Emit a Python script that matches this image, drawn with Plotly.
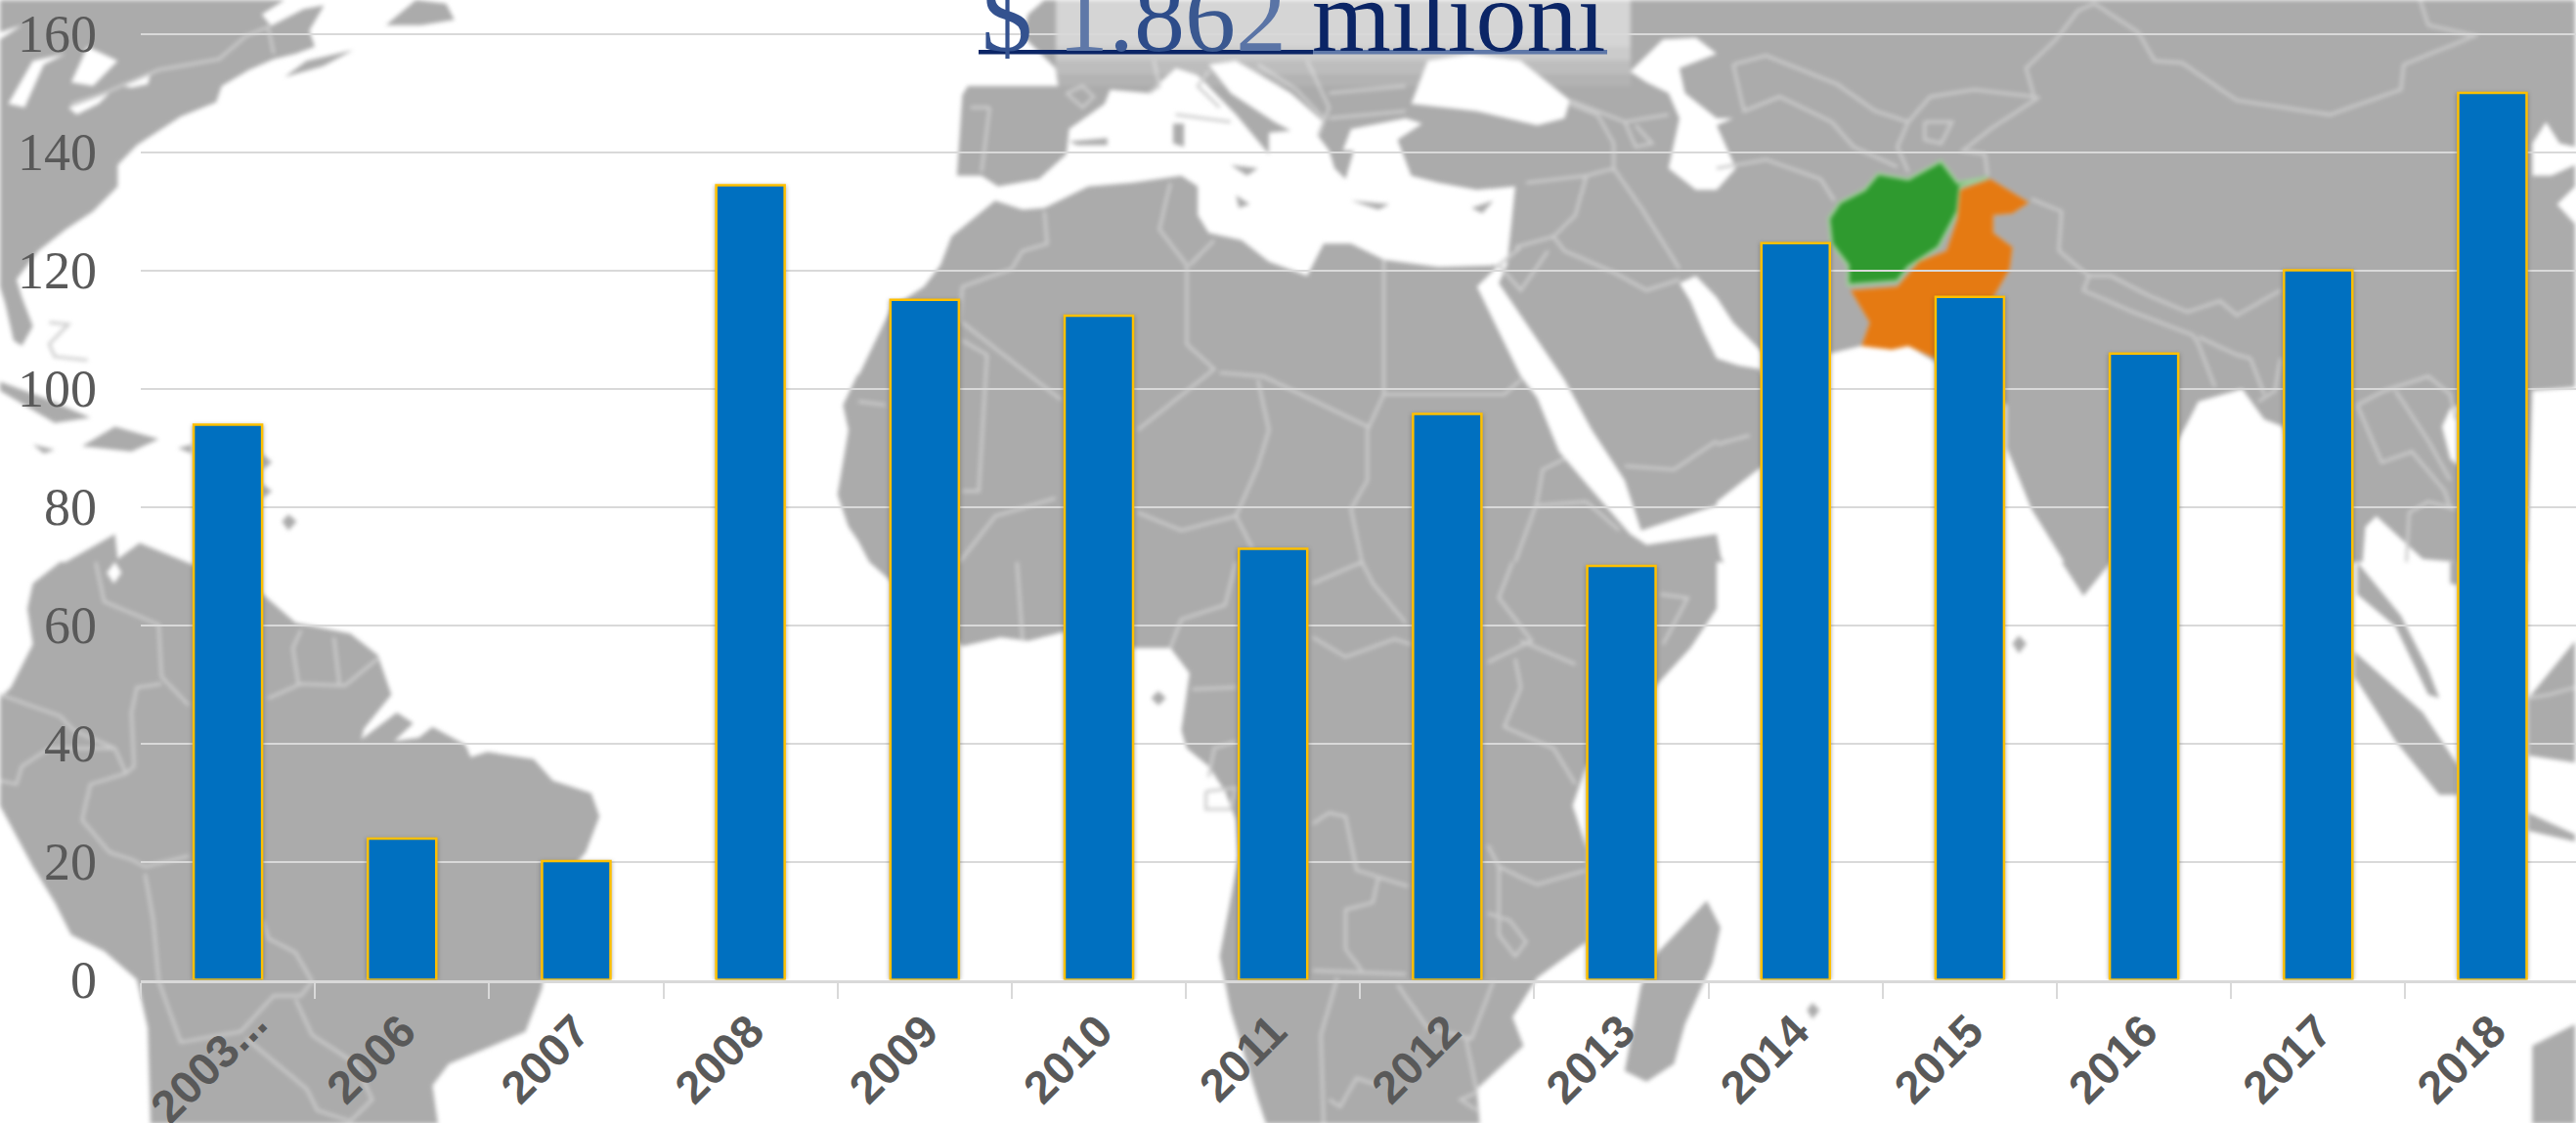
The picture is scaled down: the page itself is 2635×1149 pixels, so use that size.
import plotly.graph_objects as go

# ---- chart data ----
categories = ["2003...", "2006", "2007", "2008", "2009", "2010", "2011",
              "2012", "2013", "2014", "2015", "2016", "2017", "2018"]
values = [93.9, 23.9, 20.1, 134.4, 115, 112.3, 72.9,
          95.7, 70, 124.6, 115.5, 105.9, 120, 150]
y_ticks = [0, 20, 40, 60, 80, 100, 120, 140, 160]

W, H = 2635, 1149
SX, SY = 1568 / 878, 1568 / 575
TILES = {"A": (0, 0), "B": (878, 0), "C": (1756, 0), "D": (0, 575), "E": (878, 575), "F": (1756, 575)}


def P(tile, pts):
    ox, oy = TILES[tile]
    return [(ox + x / SX, oy + y / SY) for x, y in pts]


def path(polys, close=True):
    out = []
    for poly in polys:
        s = "M" + " L".join(f"{x / W:.5f},{1 - y / H:.5f}" for x, y in poly)
        out.append(s + (" Z" if close else ""))
    return " ".join(out)


# ---- decorative background map ----
land = [
    # North America
    P("A", [(0, 0), (520, 0), (478, 40), (495, 72), (555, 25), (592, 15), (565, 85), (575, 130), (540, 150), (500, 165),
            (455, 195), (405, 240), (395, 285), (330, 325), (300, 355), (250, 405), (215, 460), (215, 520), (170, 590),
            (120, 640), (70, 700), (30, 780), (40, 830), (60, 910), (40, 965), (25, 950), (10, 850), (0, 800)]),
    P("A", [(520, 215), (560, 170), (645, 140), (590, 185)]),
    P("A", [(705, 70), (760, 0), (815, 10), (830, 55), (770, 70)]),
    P("A", [(0, 1065), (80, 1110), (165, 1165), (100, 1180), (0, 1090)]),
    P("A", [(150, 1245), (210, 1190), (290, 1225), (240, 1260)]),
    P("A", [(60, 1240), (100, 1255), (80, 1265)]),
    P("A", [(325, 1250), (350, 1240), (350, 1265)]),
    P("A", [(478, 1265), (497, 1290), (480, 1310)]),
    P("A", [(478, 1350), (497, 1370), (480, 1390)]),
    P("A", [(515, 1455), (527, 1435), (542, 1455), (527, 1480)]),
    # South America
    P("A", [(120, 1568), (210, 1490), (215, 1560), (255, 1515), (340, 1568)])
    + P("D", [(480, 90), (540, 170), (640, 200), (690, 260), (715, 370), (665, 465), (660, 495), (725, 420), (755, 450),
              (720, 500), (765, 490), (790, 460), (850, 510), (860, 545), (890, 530), (975, 550), (1010, 610),
              (1080, 645), (1095, 710), (1070, 810), (1020, 900), (1000, 1050), (990, 1190), (960, 1310), (900, 1350),
              (820, 1400), (790, 1460), (800, 1568), (275, 1568), (270, 1300), (250, 1165), (190, 1085), (130, 1040),
              (100, 950), (60, 850), (0, 680), (0, 380), (20, 350), (60, 230), (50, 130), (60, 60), (110, 0)]),
    # Africa
    P("B", [(0, 1050), (60, 860), (120, 800), (150, 740), (170, 660), (250, 560), (300, 585), (340, 580), (420, 520),
            (500, 510), (590, 490), (620, 520), (620, 600), (640, 650), (700, 670), (750, 730), (820, 770), (850, 680),
            (900, 680), (960, 725), (1060, 745), (1170, 740), (1130, 800), (1210, 1050), (1240, 1110), (1280, 1260),
            (1330, 1350), (1410, 1490), (1440, 1520), (1568, 1490)])
    + P("C", [(8, 1557), (14, 1568)])
    + P("E", [(1568, 0), (1568, 130), (1520, 240), (1460, 340), (1330, 570), (1305, 680), (1330, 800), (1330, 1060),
              (1240, 1160), (1195, 1270), (1215, 1350), (1130, 1470), (1135, 1568), (745, 1568), (730, 1500),
              (680, 1250), (660, 1100), (695, 820), (690, 720), (670, 640), (640, 570), (600, 520), (590, 470),
              (605, 310), (570, 240), (505, 240), (375, 195), (310, 220), (260, 210), (190, 235), (57, 50), (20, 0)])
    + P("A", [(1568, 1510), (1550, 1470), (1530, 1380), (1550, 1200), (1540, 1130), (1568, 1040)]),
    P("E", [(1550, 945), (1575, 1020), (1560, 1120), (1510, 1290), (1490, 1400), (1440, 1450), (1400, 1420),
            (1430, 1180), (1460, 1090)]),
    P("E", [(535, 380), (548, 360), (562, 380), (548, 400)]),
    # Eurasia
    P("B", [(340, 0), (1568, 0)])
    + P("C", [(1568, 0), (1568, 410), (1540, 400), (1515, 340), (1490, 400), (1490, 490), (1525, 490), (1568, 460),
              (1568, 520), (1535, 570), (1568, 625), (1568, 1080), (1490, 1090), (1480, 1568), (1355, 1568), (1290, 1560),
              (1205, 1440), (1185, 1470), (1180, 1568), (1100, 1568), (1035, 1190), (1000, 1170), (960, 1085), (880, 1120),
              (860, 1180), (720, 1568), (635, 1568), (575, 1420), (530, 1250), (530, 1130), (400, 1010), (350, 965),
              (320, 975), (265, 965), (210, 985), (85, 985), (30, 900), (0, 830)])
    + P("B", [(1530, 770), (1500, 790), (1520, 840), (1545, 930)])
    + P("C", [(0, 1000), (40, 1020), (80, 1030), (90, 1080), (200, 1200), (75, 1310), (0, 1400)])
    + P("B", [(1568, 1410), (1430, 1480), (1400, 1340), (1340, 1200), (1290, 1060), (1170, 790), (1185, 740), (1200, 520),
              (1130, 530), (1060, 510), (1010, 490), (985, 390), (1030, 345), (1000, 330), (900, 360), (885, 420),
              (905, 420), (890, 500), (870, 470), (860, 420), (840, 380), (850, 340), (790, 260), (690, 170), (640, 180),
              (680, 260), (760, 340), (790, 365), (750, 370), (750, 430), (690, 320), (620, 210), (580, 190), (530, 260),
              (460, 250), (450, 290), (385, 360), (380, 430), (330, 500), (255, 520), (225, 490), (180, 490), (185, 380),
              (190, 265), (200, 240), (365, 240), (360, 190), (300, 100), (310, 40)]),
    P("B", [(680, 460), (730, 470), (710, 490)]),
    P("B", [(575, 345), (595, 345), (595, 410), (575, 400)]),
    P("B", [(385, 395), (455, 385), (455, 405), (400, 405)]),
    P("B", [(900, 560), (970, 570), (950, 585)]),
    P("B", [(1120, 580), (1160, 560), (1140, 595)]),
    P("B", [(690, 545), (715, 570), (695, 580)]),
    # Indian Ocean islands, Malaya, Sumatra, Borneo, Java
    P("F", [(540, 228), (552, 205), (566, 228), (552, 255)]),
    P("F", [(165, 1250), (175, 1230), (188, 1250), (175, 1275)]),
    P("C", [(640, 1568), (720, 1568)]) + P("F", [(715, 10), (670, 95), (630, 0)]),
    P("F", [(1170, 0), (1250, 150), (1300, 300), (1320, 380), (1300, 370), (1240, 180), (1170, 90)]),
    P("F", [(1165, 250), (1290, 420), (1355, 570), (1355, 650), (1320, 650), (1240, 500), (1165, 320)]),
    P("F", [(1483, 700), (1568, 760), (1568, 780), (1483, 750)]),
    P("F", [(1483, 380), (1568, 220), (1568, 560), (1483, 540)]),
    P("F", [(1340, 0), (1355, 0), (1355, 65), (1340, 60)]),
    P("F", [(1490, 1568), (1490, 1350), (1568, 1290), (1568, 1568)]),
]

water = [
    P("A", [(15, 290), (60, 170), (120, 150), (80, 180), (45, 300)]),
    P("A", [(130, 230), (160, 130), (215, 170), (170, 240)]),
    P("A", [(125, 300), (200, 260), (180, 290), (140, 320)]),
    P("A", [(225, 240), (275, 205), (270, 235), (240, 245)]),
    P("A", [(0, 90), (40, 70), (0, 110)]),
    P("B", [(1010, 290), (1040, 170), (1120, 150), (1210, 170), (1300, 280), (1290, 330), (1240, 350), (1130, 310)]),
    P("B", [(1410, 200), (1470, 110), (1530, 105), (1568, 150), (1500, 190), (1510, 260), (1568, 330)])
    + P("C", [(30, 330), (0, 350), (35, 470), (0, 530)])
    + P("B", [(1530, 530), (1480, 470), (1500, 330), (1480, 260), (1440, 230)]),
    P("D", [(195, 30), (210, 0), (222, 30), (208, 60)]),
    P("E", [(1305, 680), (1330, 570), (1335, 800)]),
    P("C", [(1325, 1190), (1340, 1140), (1355, 1130), (1355, 1300), (1340, 1280)]),
]

borders = [
    P("A", [(130, 290), (190, 260), (290, 195), (400, 165), (450, 100), (490, 75), (500, 150)]),
    P("A", [(90, 900), (125, 905), (90, 960), (100, 995), (160, 1005)]),
    P("D", [(175, 0), (190, 110), (290, 175), (295, 320), (345, 400)]),
    P("D", [(345, 820), (265, 850), (240, 830), (200, 810), (150, 720), (165, 620), (230, 590), (245, 570), (240, 420),
            (250, 350), (295, 340)]),
    P("D", [(0, 370), (110, 430), (135, 470), (210, 520), (230, 590)]),
    P("D", [(0, 610), (30, 620), (40, 570), (90, 520), (210, 520)]),
    P("D", [(265, 870), (280, 1000), (290, 1170), (330, 1340), (440, 1310), (500, 1210), (550, 1210), (570, 1170),
            (540, 1090), (490, 1050), (480, 1000)]),
    P("D", [(540, 1220), (570, 1320), (650, 1400), (680, 1500), (640, 1560), (580, 1530), (560, 1470), (450, 1330)]),
    P("D", [(490, 380), (550, 340), (630, 345), (690, 270)]),
    P("D", [(545, 340), (535, 240), (550, 190)]),
    P("D", [(620, 340), (610, 210)]),
    # Africa north
    P("B", [(960, 725), (960, 1100), (930, 1200), (930, 1340), (900, 1420), (920, 1568)]),
    P("B", [(960, 1100), (1180, 1100), (1210, 1060)]),
    P("B", [(930, 1190), (740, 1050), (660, 1040)]),
    P("B", [(570, 510), (550, 640), (600, 740), (600, 900), (600, 960), (650, 1030), (510, 1200)]),
    P("B", [(650, 670), (605, 740)]),
    P("B", [(340, 590), (345, 680), (300, 700), (280, 750), (190, 800), (185, 900)]),
    P("B", [(190, 900), (370, 1115)]),
    P("B", [(190, 950), (235, 990), (220, 1370), (190, 1370)]),
    P("B", [(730, 1060), (750, 1200), (730, 1300), (690, 1440), (590, 1480), (510, 1430)]),
    P("B", [(690, 1440), (720, 1530)]),
    P("B", [(0, 1120), (50, 1130)]),
    P("B", [(185, 1568), (250, 1440), (360, 1390)]),
    # Middle East / Arabia
    P("B", [(1200, 690), (1270, 660), (1310, 600), (1330, 490), (1220, 510)]),
    P("B", [(1330, 490), (1380, 470), (1430, 580), (1500, 750)]),
    P("B", [(1270, 660), (1290, 700), (1380, 760), (1440, 810), (1500, 780)]),
    P("B", [(1210, 690), (1170, 740), (1210, 810), (1260, 700)]),
    P("B", [(1380, 470), (1380, 400), (1350, 320), (1300, 290)]),
    P("B", [(1400, 1300), (1490, 1310), (1568, 1230)]),
    P("B", [(1290, 1280), (1250, 1310), (1240, 1400), (1200, 1568)]),
    P("B", [(1240, 1410), (1330, 1400), (1390, 1480)]),
    P("B", [(1300, 280), (1400, 340), (1480, 320)]),
    P("B", [(1400, 340), (1420, 410), (1450, 400), (1420, 350)]),
    # Europe
    P("B", [(380, 260), (410, 240), (430, 270), (410, 300), (380, 260)]),
    P("B", [(240, 300), (225, 480)]),
    P("B", [(205, 300), (240, 300)]),
    P("B", [(640, 200), (620, 240), (660, 300)]),
    P("B", [(730, 180), (800, 250), (850, 330)]),
    P("B", [(820, 170), (860, 300), (840, 380)]),
    P("B", [(860, 260), (1000, 240)]),
    P("B", [(860, 330), (1000, 310)]),
    P("B", [(580, 320), (680, 340)]),
    P("B", [(540, 170), (550, 240), (530, 260)]),
    # Central and South Asia
    P("C", [(30, 180), (90, 155), (220, 235), (290, 310), (350, 340), (390, 270), (470, 250), (580, 270), (565, 190),
            (620, 110), (660, 30), (690, 10), (770, 90), (800, 170), (850, 175), (950, 280), (1120, 320), (1250, 250),
            (1255, 180), (1385, 100), (1300, 70), (1285, 0)]),
    P("C", [(30, 180), (50, 310), (115, 270), (210, 340), (250, 410), (330, 465)]),
    P("C", [(350, 340), (330, 410), (350, 480)]),
    P("C", [(590, 270), (500, 360), (450, 420), (490, 430), (495, 490)]),
    P("C", [(380, 340), (430, 340), (410, 400), (380, 390), (380, 340)]),
    P("C", [(0, 470), (90, 445), (190, 500), (215, 560)]),
    P("C", [(575, 555), (630, 590), (625, 700), (680, 770), (720, 770), (790, 825), (860, 870), (880, 860), (920, 840),
            (950, 880), (1030, 810)]),
    P("C", [(680, 770), (670, 810), (760, 870), (870, 935), (880, 960), (910, 1080)]),
    P("C", [(880, 940), (950, 990), (975, 1000), (1000, 1100)]),
    P("C", [(1030, 1000), (1020, 1090), (990, 1120)]),
    P("C", [(1170, 1130), (1220, 1090), (1300, 1050), (1340, 1100), (1350, 1170)]),
    P("C", [(1170, 1130), (1215, 1290), (1270, 1260), (1330, 1370), (1340, 1420)]),
    P("C", [(1240, 1090), (1300, 1230), (1340, 1340)]),
    P("C", [(1260, 1568), (1265, 1430), (1300, 1400), (1350, 1420)]),
    P("C", [(0, 1240), (60, 1215)]),
    P("F", [(1483, 380), (1520, 370), (1568, 350)]),
    # Africa south
    P("E", [(290, 0), (300, 220)]),
    P("E", [(690, 0), (670, 120), (590, 160), (570, 240)]),
    P("E", [(830, 60), (920, 0), (940, 60), (1000, 170)]),
    P("E", [(830, 210), (890, 265), (980, 215), (1010, 230)]),
    P("E", [(1195, 0), (1170, 100), (1210, 180), (1230, 220), (1150, 280)]),
    P("E", [(1210, 220), (1310, 285)]),
    P("E", [(1200, 270), (1210, 350), (1180, 460), (1270, 520), (1310, 620)]),
    P("E", [(1465, 90), (1515, 100), (1470, 230)]),
    P("E", [(640, 600), (650, 520), (690, 500)]),
    P("E", [(635, 640), (690, 630), (680, 690), (635, 690), (635, 640)]),
    P("E", [(610, 355), (690, 350)]),
    P("E", [(830, 730), (860, 700), (890, 710), (910, 860), (1005, 905)]),
    P("E", [(950, 880), (940, 950), (890, 970), (890, 1080), (920, 1140)]),
    P("E", [(1150, 790), (1170, 850), (1210, 880), (1240, 900), (1330, 860)]),
    P("E", [(1150, 980), (1190, 1000), (1220, 1060), (1200, 1100), (1170, 1040), (1170, 850)]),
    P("E", [(830, 1140), (1000, 1150)]),
    P("E", [(875, 1160), (845, 1320), (850, 1568)]),
    P("E", [(985, 1180), (1040, 1300), (1120, 1330), (1160, 1170)]),
    P("E", [(1110, 1330), (1130, 1480), (1100, 1500), (1130, 1530)]),
    P("E", [(860, 1500), (880, 1520), (910, 1440), (950, 1460)]),
]

afghanistan = P("C", [(205, 610), (225, 565), (270, 530), (295, 485), (350, 500), (410, 450), (440, 510), (495, 495),
                      (445, 520), (440, 590), (405, 690), (350, 745), (330, 785), (240, 795), (240, 740), (210, 680)])
pakistan = P("C", [(245, 810), (330, 800), (370, 730), (420, 700), (440, 610), (445, 530), (500, 500), (570, 565),
                   (540, 595), (505, 600), (505, 650), (540, 690), (535, 750), (505, 830), (400, 1000), (350, 965),
                   (320, 975), (265, 965), (280, 900)])

GRAY, LINE, WHITE = "#ababab", "#cdcdcd", "#ffffff"
shapes = [
    dict(type="path", path=path(land), fillcolor=GRAY, line=dict(width=0), layer="below", xref="paper", yref="paper"),
    dict(type="path", path=path(water), fillcolor=WHITE, line=dict(width=0), layer="below", xref="paper", yref="paper"),
    dict(type="path", path=path(borders, close=False), fillcolor="rgba(0,0,0,0)", line=dict(width=3, color=LINE),
         layer="below", xref="paper", yref="paper"),
    dict(type="path", path=path([afghanistan]), fillcolor="#2f9a2f", line=dict(width=3, color="#9ccf96"),
         layer="below", xref="paper", yref="paper"),
    dict(type="path", path=path([pakistan]), fillcolor="#e57a12", line=dict(width=1, color="#eb9a4e"),
         layer="below", xref="paper", yref="paper"),
]
# Soft white glow behind the heading
for y0, y1, a in [(0, 48, 0.5), (48, 62, 0.38), (62, 76, 0.22), (76, 88, 0.1)]:
    shapes.append(dict(type="rect", xref="paper", yref="paper", x0=1080 / W, x1=1668 / W, y0=1 - y1 / H, y1=1 - y0 / H,
                       fillcolor=f"rgba(255,255,255,{a})", line=dict(width=0), layer="below"))

# Underline of the heading (two tones)
shapes.append(dict(type="rect", xref="paper", yref="paper", x0=1001 / W, x1=1343 / W, y0=1 - 55.5 / H, y1=1 - 51 / H,
                   fillcolor="#0b2566", line=dict(width=0), layer="above"))
shapes.append(dict(type="rect", xref="paper", yref="paper", x0=1343 / W, x1=1644 / W, y0=1 - 55.5 / H, y1=1 - 51 / H,
                   fillcolor="#5f78a8", line=dict(width=0), layer="above"))

heading = "".join(
    f'<span style="color:{c}">{t}</span>'
    for t, c in [("$", "#34528f"), (" ", "#34528f"), ("1", "#5f78a8"), (".", "#3f5c96"), ("8", "#2d4c8a"),
                 ("6", "#3a5890"), ("2", "#5a74a6"), (" milioni", "#0b2566")]
)

fig = go.Figure()
fig.add_bar(x=categories, y=values, width=0.41, marker=dict(color="rgba(60,60,60,0.4)", line=dict(width=0)),
            hoverinfo="skip", showlegend=False)
fig.add_bar(x=categories, y=values, width=0.393, marker=dict(color="#0070C0", line=dict(color="#FFC000", width=2.5)),
            showlegend=False)

fig.update_layout(
    width=W, height=H, margin=dict(l=0, r=0, t=0, b=0, autoexpand=False), autosize=False,
    paper_bgcolor="white", plot_bgcolor="rgba(0,0,0,0)", barmode="overlay", showlegend=False,
    shapes=shapes,
    annotations=[dict(text=heading, xref="paper", yref="paper", x=1322.5 / W, y=1 - 76 / H, xanchor="center",
                      yanchor="bottom", showarrow=False, font=dict(family="Liberation Serif", size=104))],
    xaxis=dict(type="category", domain=[144 / W, 1], range=[-0.5, 13.48], tickson="boundaries", ticks="outside",
               ticklen=16, tickwidth=2, tickcolor="#d9d9d9", showline=True, linecolor="#d9d9d9", linewidth=3,
               showgrid=False, tickangle=-45, ticklabelstandoff=3, automargin=False,
               tickfont=dict(family="Liberation Sans", size=47, color="#595959", weight="bold")),
    yaxis=dict(domain=[(H - 1002.5) / H, 1], range=[0, 1002.5 / 6.05], tickvals=y_ticks, showgrid=True,
               gridcolor="#d9d9d9", gridwidth=2, zeroline=False, showline=False, ticks="", ticklabelstandoff=44,
               automargin=False, tickfont=dict(family="Liberation Serif", size=54, color="#595959")),
)

post = """
document.body.style.margin='0';document.body.style.overflow='hidden';
document.querySelectorAll('.layer-below .shapelayer').forEach(function(g){g.style.filter='blur(2px)';});
var bars=document.querySelectorAll('.barlayer .trace');
if(bars.length){bars[0].style.filter='blur(2px)';}
document.querySelectorAll('.xtick text').forEach(function(t){
  if((t.textContent||'').indexOf('...')>=0){t.setAttribute('transform','translate(26,-8) '+(t.getAttribute('transform')||''));}
});
"""
fig.write_html("out.html", post_script=post, config={"displayModeBar": False})
